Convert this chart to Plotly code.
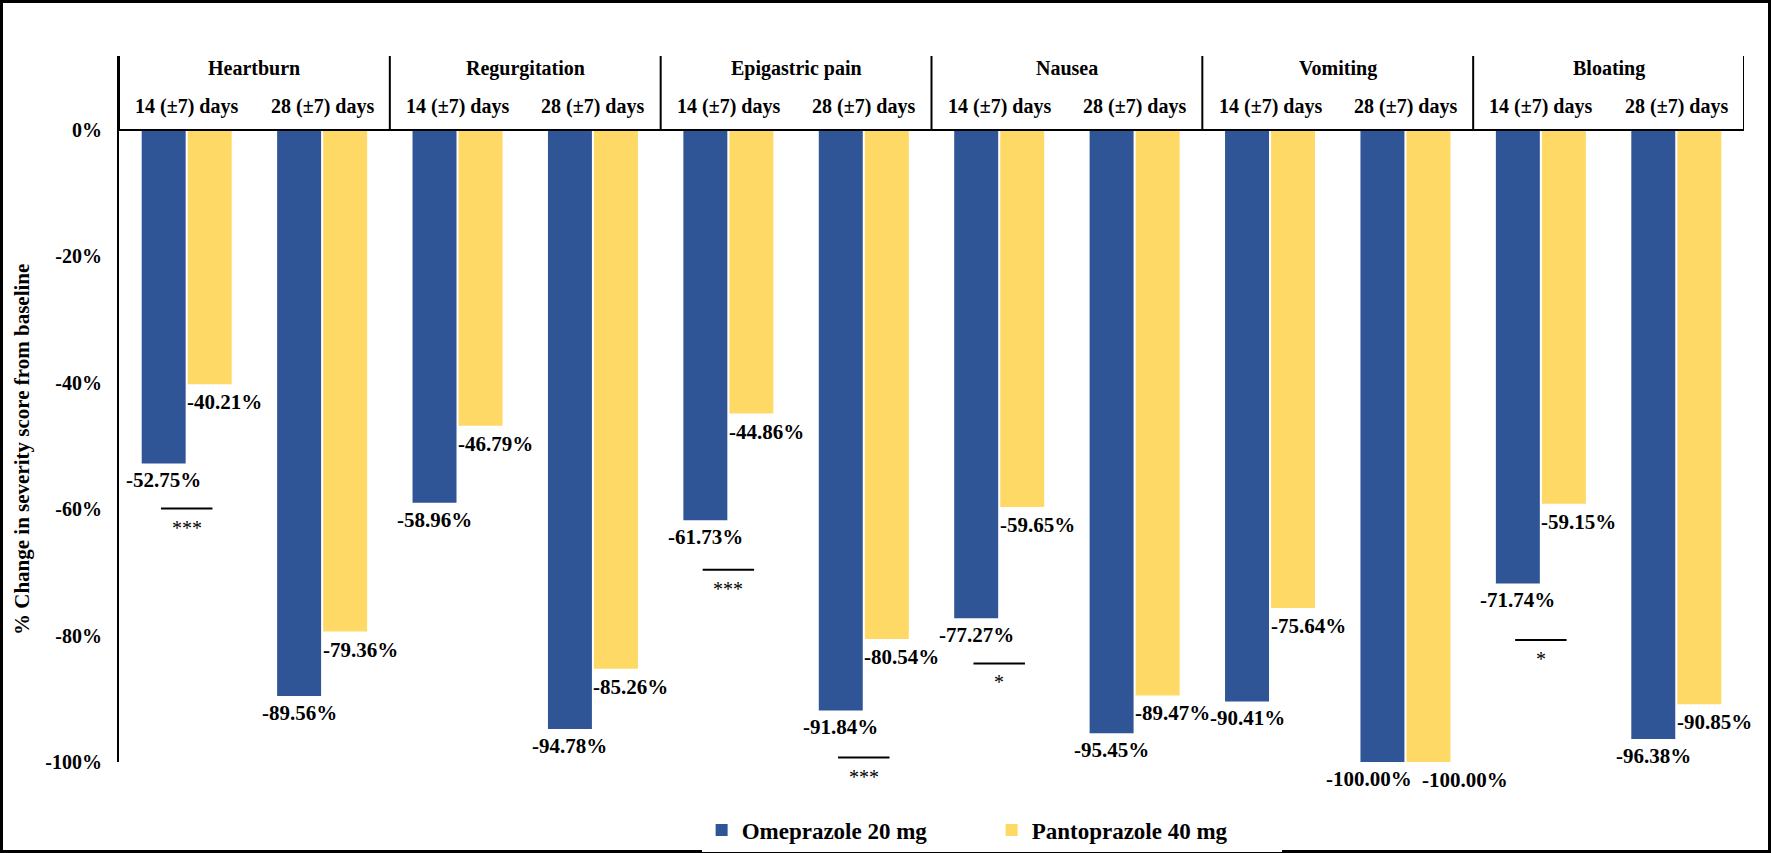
import plotly.graph_objects as go

# ---------------- data ----------------
symptoms = ["Heartburn", "Regurgitation", "Epigastric pain", "Nausea", "Vomiting", "Bloating"]
timepoints = ["14 (\u00b17) days", "28 (\u00b17) days"]
omeprazole = [-52.75, -89.56, -58.96, -94.78, -61.73, -91.84,
              -77.27, -95.45, -90.41, -100.00, -71.74, -96.38]
pantoprazole = [-40.21, -79.36, -46.79, -85.26, -44.86, -80.54,
                -59.65, -89.47, -75.64, -100.00, -59.15, -90.85]
series_names = ["Omeprazole 20 mg", "Pantoprazole 40 mg"]
y_ticks = [0, -20, -40, -60, -80, -100]
y_tick_labels = ["0%", "-20%", "-40%", "-60%", "-80%", "-100%"]
# significance markers: sub-group index, bracket level (%), text
sig_index = [0, 4, 5, 6, 10]
sig_level = [-59.9, -69.6, -99.3, -84.4, -80.7]
sig_text = ["***", "***", "***", "*", "*"]

# ---------------- style ----------------
FONT = "Liberation Serif"
BLUE = "#2F5597"
YELLOW = "#FFD966"
W, H = 1771, 853
L, R, T, B = 119, 27, 56, 91
Y_TOP = 11.71
BARGAP = 0.32
BARGROUPGAP = 0.045

n_sub = len(symptoms) * len(timepoints)
xs = list(range(n_sub))
half = (1 - BARGAP) / 4.0  # offset of each bar centre from slot centre

fig = go.Figure()
fig.add_trace(go.Bar(x=xs, y=omeprazole, name=series_names[0], marker_color=BLUE,
                     marker_line_width=0))
fig.add_trace(go.Bar(x=xs, y=pantoprazole, name=series_names[1], marker_color=YELLOW,
                     marker_line_width=0))

shapes = []
annotations = []

# zero line across the header base
shapes.append(dict(type="line", xref="x", yref="y", x0=-0.5, x1=n_sub - 0.5, y0=0, y1=0,
                   line=dict(color="black", width=2)))
# vertical dividers in the header
for k in range(len(symptoms) + 1):
    xv = -0.5 + k * len(timepoints)
    shapes.append(dict(type="line", xref="x", yref="y", x0=xv, x1=xv, y0=0, y1=Y_TOP,
                       line=dict(color="black", width=2)))

# header texts
hdr_font = dict(family=FONT, size=20, color="black", weight="bold")
for k, s in enumerate(symptoms):
    annotations.append(dict(x=k * len(timepoints) + (len(timepoints) - 1) / 2, y=9.76,
                            xref="x", yref="y", text=s, showarrow=False, font=hdr_font))
    for j, tp in enumerate(timepoints):
        annotations.append(dict(x=k * len(timepoints) + j, y=3.69, xref="x", yref="y",
                                text=tp, showarrow=False, font=hdr_font))

# data labels
lab_font = dict(family=FONT, size=21, color="black", weight="bold")
for i, v in enumerate(omeprazole):
    xsh = -13 if (omeprazole[i] <= -100 and pantoprazole[i] <= -100) else 0
    annotations.append(dict(x=i - half, y=v, xref="x", yref="y", text=f"{v:.2f}%",
                            showarrow=False, yanchor="middle", yshift=-17, xshift=xsh,
                            font=lab_font))
for i, v in enumerate(pantoprazole):
    xsh = 37 if (omeprazole[i] <= -100 and pantoprazole[i] <= -100) else 15
    annotations.append(dict(x=i + half, y=v, xref="x", yref="y", text=f"{v:.2f}%",
                            showarrow=False, yanchor="middle", yshift=-18, xshift=xsh,
                            font=lab_font))

# significance brackets
for idx, lvl, txt in zip(sig_index, sig_level, sig_text):
    shapes.append(dict(type="line", xref="x", yref="y", x0=idx - 0.19, x1=idx + 0.19,
                       y0=lvl, y1=lvl, line=dict(color="black", width=2)))
    annotations.append(dict(x=idx, y=lvl, xref="x", yref="y", text=txt, showarrow=False,
                            yanchor="top", yshift=-6,
                            font=dict(family=FONT, size=20, color="black")))

# y-axis title
pw = W - L - R
ph = H - T - B
annotations.append(dict(x=0, y=(H - B - 450) / ph, xref="paper", yref="paper",
                        xshift=-(L - 22), text="% Change in severity score from baseline",
                        textangle=-90, showarrow=False, xanchor="center", yanchor="middle",
                        font=dict(family=FONT, size=21, color="black", weight="bold")))

# outer frame
shapes.append(dict(type="rect", xref="paper", yref="paper",
                   x0=-L / pw, x1=1 + R / pw, y0=-B / ph, y1=1 + T / ph,
                   line=dict(color="black", width=6), fillcolor="rgba(0,0,0,0)"))

fig.update_layout(
    width=W, height=H,
    margin=dict(l=L, r=R, t=T, b=B, pad=0, autoexpand=False),
    paper_bgcolor="white", plot_bgcolor="white",
    barmode="group", bargap=BARGAP, bargroupgap=BARGROUPGAP,
    showlegend=True,
    legend=dict(orientation="h", x=0.537, xanchor="center", y=-(830 - (H - B)) / ph,
                yanchor="middle", entrywidth=245,
                font=dict(family=FONT, size=23, color="black", weight="bold")),
    xaxis=dict(range=[-0.5, n_sub - 0.5], showticklabels=False, showgrid=False,
               zeroline=False, showline=False, ticks=""),
    yaxis=dict(range=[-100, Y_TOP], tickvals=y_ticks, ticktext=y_tick_labels,
               showgrid=False, zeroline=False, showline=True, linecolor="black",
               linewidth=2, ticks="", ticklabelstandoff=11,
               tickfont=dict(family=FONT, size=20, color="black", weight="bold")),
    shapes=shapes, annotations=annotations,
)

fig.write_html("out.html")
